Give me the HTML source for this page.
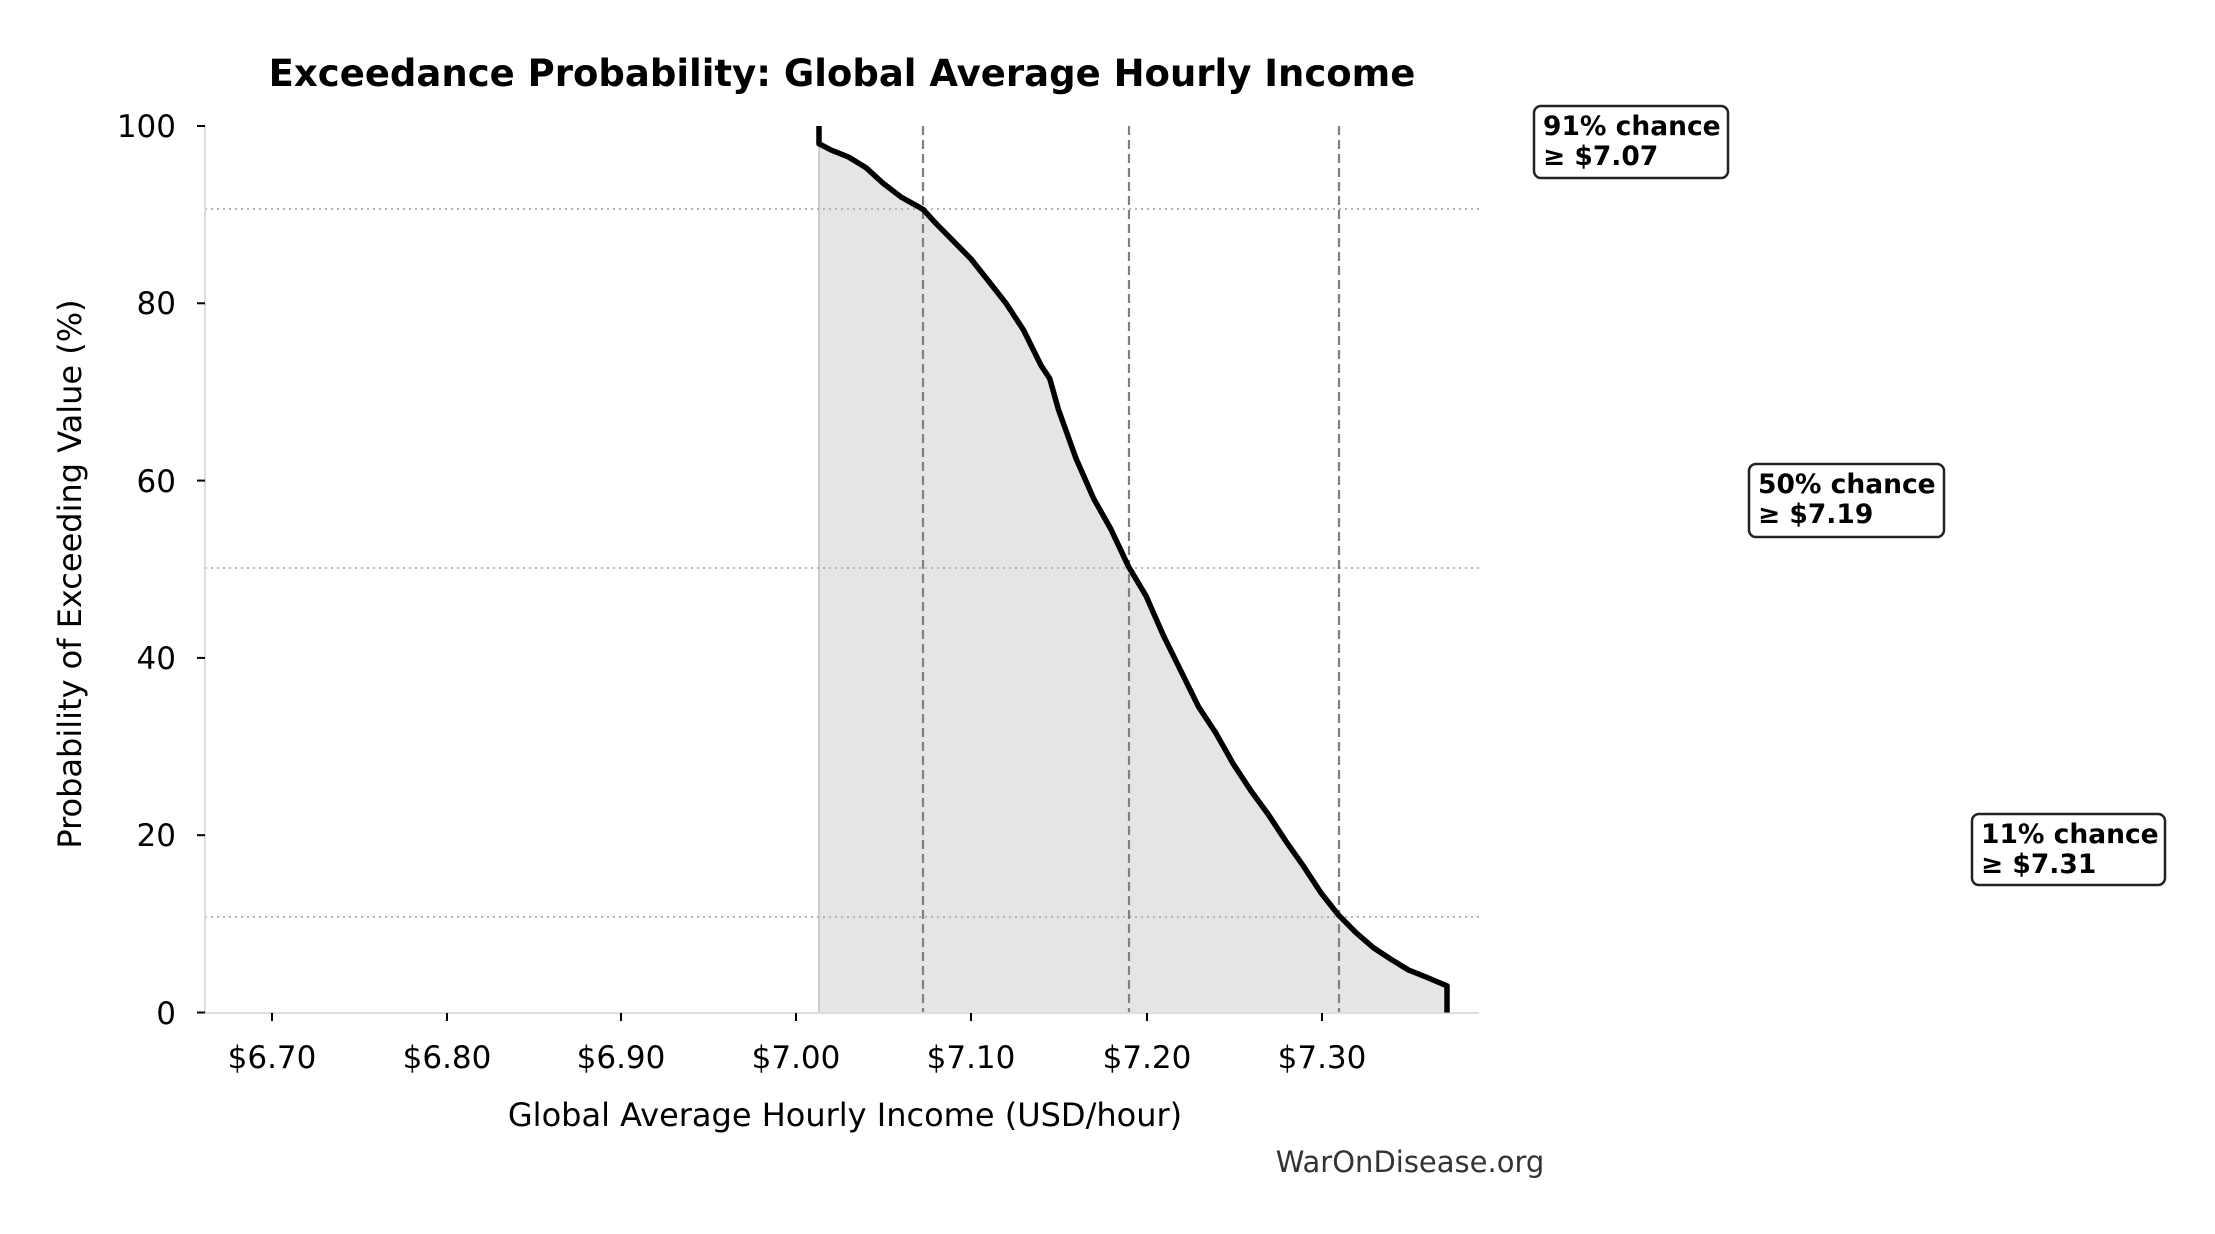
<!DOCTYPE html>
<html><head><meta charset="utf-8"><style>html,body{margin:0;padding:0;background:#fff}svg{display:block}</style></head>
<body>
<svg width="2215" height="1234" xmlns="http://www.w3.org/2000/svg" font-family="DejaVu Sans, Liberation Sans, sans-serif">
<rect width="2215" height="1234" fill="#fff"/>
<text x="842" y="86" font-size="37" font-weight="bold" text-anchor="middle">Exceedance Probability: Global Average Hourly Income</text>
<!-- fill -->
<polygon fill="#e5e5e5" points="819,1012.5 819,126 819,143.7 831,150 848.5,157 866,167.7 883.5,183.6 901,197 923,209.3 936,223.5 953.5,241.2 971,259 988.5,281 1006,303.3 1023.5,330 1041,365.4 1049.75,378.6 1058.5,409.7 1076,458.4 1093.5,498.3 1111,529.4 1128.5,566.6 1146,595.8 1163.5,635.7 1181,671.2 1198.5,706.7 1216,733.3 1233.5,764.3 1251,790.9 1268.5,814.8 1286,841.4 1303.5,866.2 1321,892.9 1338.5,915 1356,932.7 1373.5,947.8 1391,959.3 1408.5,970 1426,977 1447,985.9 1447,1012.5"/>
<line x1="819" y1="126" x2="819" y2="1012.5" stroke="#cccccc" stroke-width="2"/>
<!-- gridlines -->
<g stroke="#b3b3b3" stroke-width="2" stroke-dasharray="2,4">
<line x1="205" y1="209" x2="1479" y2="209"/>
<line x1="205" y1="568" x2="1479" y2="568"/>
<line x1="205" y1="917" x2="1479" y2="917"/>
</g>
<g stroke="#808080" stroke-width="2.2" stroke-dasharray="9,5">
<line x1="923" y1="126" x2="923" y2="1012.5"/>
<line x1="1129" y1="126" x2="1129" y2="1012.5"/>
<line x1="1339" y1="126" x2="1339" y2="1012.5"/>
</g>
<!-- axes -->
<line x1="205" y1="126" x2="205" y2="1013" stroke="#dddddd" stroke-width="2"/>
<line x1="205" y1="1013" x2="1479" y2="1013" stroke="#dddddd" stroke-width="2"/>
<!-- curve -->
<polyline fill="none" stroke="#000" stroke-width="5.5" stroke-linejoin="round" points="819,126 819,143.7 831,150 848.5,157 866,167.7 883.5,183.6 901,197 923,209.3 936,223.5 953.5,241.2 971,259 988.5,281 1006,303.3 1023.5,330 1041,365.4 1049.75,378.6 1058.5,409.7 1076,458.4 1093.5,498.3 1111,529.4 1128.5,566.6 1146,595.8 1163.5,635.7 1181,671.2 1198.5,706.7 1216,733.3 1233.5,764.3 1251,790.9 1268.5,814.8 1286,841.4 1303.5,866.2 1321,892.9 1338.5,915 1356,932.7 1373.5,947.8 1391,959.3 1408.5,970 1426,977 1447,985.9 1447,1012.5"/>
<!-- ticks -->
<g stroke="#000" stroke-width="2">
<line x1="197" y1="126" x2="205" y2="126"/><line x1="197" y1="303.3" x2="205" y2="303.3"/><line x1="197" y1="480.6" x2="205" y2="480.6"/><line x1="197" y1="657.9" x2="205" y2="657.9"/><line x1="197" y1="835.2" x2="205" y2="835.2"/><line x1="197" y1="1012.5" x2="205" y2="1012.5"/>
<line x1="272" y1="1013" x2="272" y2="1021"/><line x1="447" y1="1013" x2="447" y2="1021"/><line x1="621" y1="1013" x2="621" y2="1021"/><line x1="796" y1="1013" x2="796" y2="1021"/><line x1="971" y1="1013" x2="971" y2="1021"/><line x1="1147" y1="1013" x2="1147" y2="1021"/><line x1="1322" y1="1013" x2="1322" y2="1021"/>
</g>
<g font-size="31" text-anchor="end">
<text x="176" y="137">100</text><text x="176" y="314">80</text><text x="176" y="492">60</text><text x="176" y="669">40</text><text x="176" y="846">20</text><text x="176" y="1024">0</text>
</g>
<g font-size="31" text-anchor="middle">
<text x="272" y="1068">$6.70</text><text x="447" y="1068">$6.80</text><text x="621" y="1068">$6.90</text><text x="796" y="1068">$7.00</text><text x="971" y="1068">$7.10</text><text x="1147" y="1068">$7.20</text><text x="1322" y="1068">$7.30</text>
</g>
<text x="845" y="1126" font-size="32" text-anchor="middle">Global Average Hourly Income (USD/hour)</text>
<text transform="translate(81,574) rotate(-90)" font-size="32" text-anchor="middle">Probability of Exceeding Value (%)</text>
<text x="1410" y="1172" font-size="29" fill="#333" text-anchor="middle">WarOnDisease.org</text>
<!-- annotations -->
<g font-size="26.5" font-weight="bold">
<rect x="1534" y="106" width="194" height="72" rx="7" fill="#fff" stroke="#222" stroke-width="2.5"/>
<text x="1543" y="135">91% chance</text><text x="1543" y="165">≥ $7.07</text>
<rect x="1749" y="464" width="195" height="73" rx="7" fill="#fff" stroke="#222" stroke-width="2.5"/>
<text x="1758" y="493">50% chance</text><text x="1758" y="523">≥ $7.19</text>
<rect x="1972" y="814" width="193" height="71" rx="7" fill="#fff" stroke="#222" stroke-width="2.5"/>
<text x="1981" y="843">11% chance</text><text x="1981" y="873">≥ $7.31</text>
</g>
</svg>
</body></html>
